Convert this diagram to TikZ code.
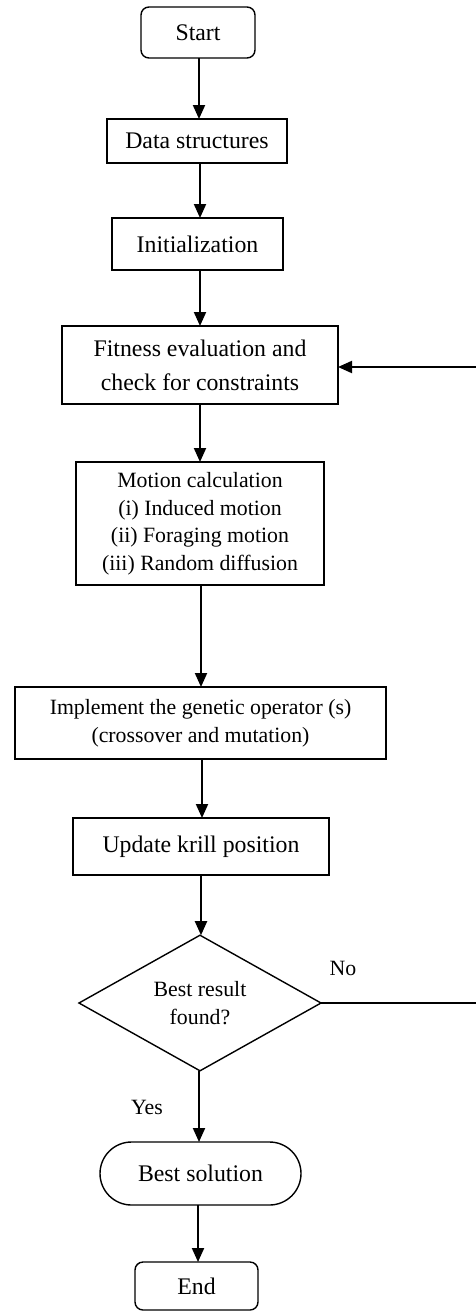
\documentclass[tikz,border=0pt]{standalone}
\usepackage{fontspec}
\setmainfont{Liberation Serif}
\usetikzlibrary{shapes.geometric,arrows.meta}
\begin{document}
\begin{tikzpicture}[x=1pt,y=-1pt,
  every node/.style={inner sep=0pt,outer sep=0pt},
  bigtext/.style={font=\fontsize{23.8}{34}\selectfont},
  smalltext/.style={font=\fontsize{21.8}{27.5}\selectfont},
  procbox/.style={draw,line width=1.4pt,align=center},
  termbox/.style={procbox,rounded corners=8pt},
  decbox/.style={draw,line width=1.4pt,diamond,align=center,smalltext},
  flow/.style={line width=2pt,-{Triangle[width=12pt,length=14pt]}},
  plainline/.style={line width=1.6pt}
]
\useasboundingbox (0,0) rectangle (476,1312);

% process steps, top to bottom
\node[termbox,bigtext,minimum width=114,minimum height=51] (start) at (198,32.5) {Start};
\node[procbox,bigtext,minimum width=180,minimum height=44] (data) at (197,141) {Data structures};
\node[procbox,bigtext,minimum width=171,minimum height=52] (init) at (197.5,244) {Initialization};
\node[procbox,bigtext,minimum width=276,minimum height=78] (fit) at (200,365)
  {Fitness evaluation and\\check for constraints};
\node[procbox,smalltext,minimum width=248,minimum height=123] (motion) at (200,523.5)
  {Motion calculation\\(i) Induced motion\\(ii) Foraging motion\\(iii) Random diffusion};
\node[procbox,smalltext,minimum width=371,minimum height=72] (genetic) at (200.5,723)
  {Implement the genetic operator (s)\\(crossover and mutation)};
\node[procbox,bigtext,minimum width=256,minimum height=57] (update) at (201,846.5) {Update krill position};
\node[decbox,minimum width=242,minimum height=114] (best) at (200,1003) {Best result\\found?};
\node[procbox,bigtext,rounded corners=31.5pt,minimum width=201,minimum height=63] (sol) at (200.5,1173.5) {Best solution};
\node[termbox,bigtext,minimum width=123,minimum height=48] (end) at (196.5,1286) {End};

% branch labels
\node[smalltext] (nolab) at (343,968) {No};
\node[smalltext] (yeslab) at (147,1107) {Yes};

% loop-back corners, beyond the right edge
\coordinate (loopA) at (479,1003);
\coordinate (loopB) at (479,367);

% main flow
\draw[flow] ([xshift=1pt]start.south) -- ([xshift=1pt]start.south |- data.north);
\draw[flow] ([xshift=3pt]data.south) -- ([xshift=3pt]data.south |- init.north);
\draw[flow] ([xshift=2.5pt]init.south) -- ([xshift=2.5pt]init.south |- fit.north);
\draw[flow] (fit.south) -- (fit.south |- motion.north);
\draw[flow] ([xshift=1pt]motion.south) -- ([xshift=1pt]motion.south |- genetic.north);
\draw[flow] ([xshift=1.5pt]genetic.south) -- ([xshift=1.5pt]genetic.south |- update.north);
\draw[flow] (update.south) -- (update.south |- best.north);
\draw[flow] ([xshift=-1pt]best.south) -- ([xshift=-1pt]best.south |- sol.north);
\draw[flow] ([xshift=-2.5pt]sol.south) -- ([xshift=-2.5pt]sol.south |- end.north);

% "No" branch back to fitness evaluation
\draw[plainline] (best.east) -- (loopA) -- (loopB);
\draw[flow] (loopB) -- (fit.east |- loopB);
\end{tikzpicture}
\end{document}
